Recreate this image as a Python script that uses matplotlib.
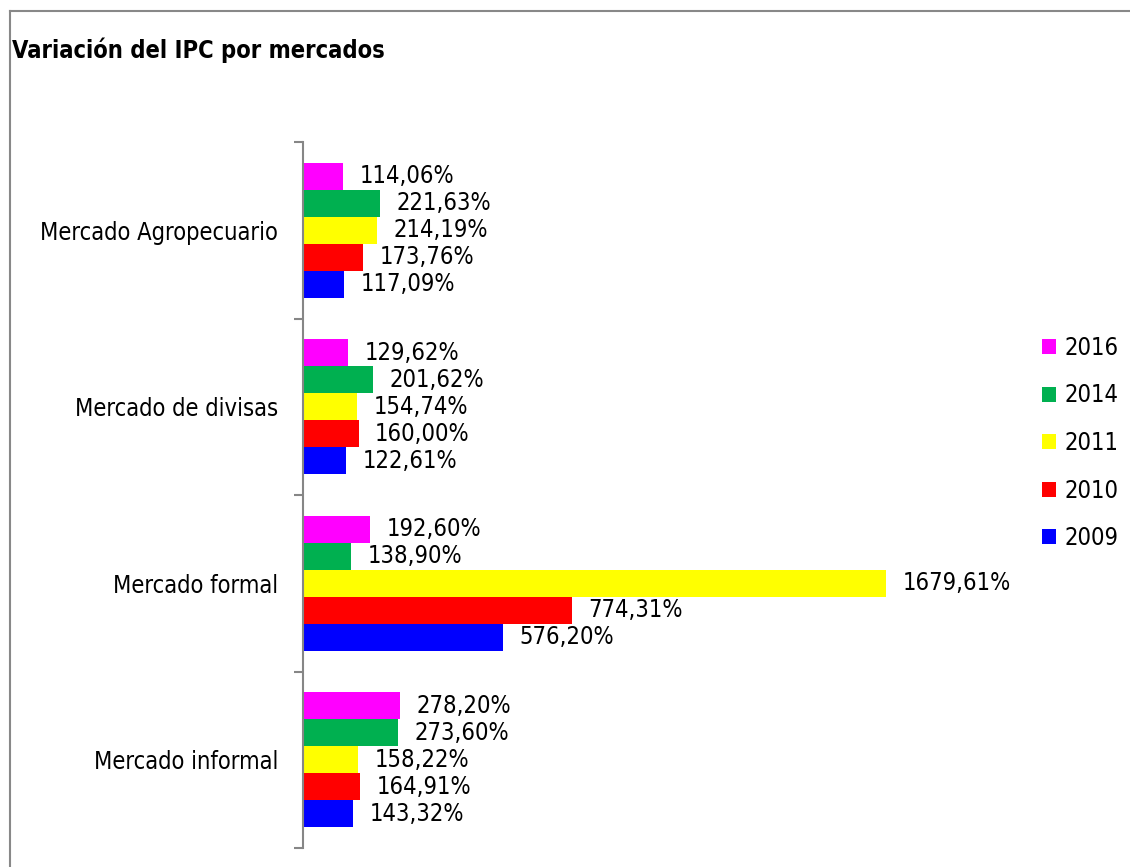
import matplotlib.pyplot as plt
import numpy as np
from matplotlib.lines import Line2D

categories = ['Mercado Agropecuario', 'Mercado de divisas', 'Mercado formal', 'Mercado informal']
years = ['2016', '2014', '2011', '2010', '2009']
v2016 = [114.06, 129.62, 192.60, 278.20]
v2014 = [221.63, 201.62, 138.90, 273.60]
v2011 = [214.19, 154.74, 1679.61, 158.22]
v2010 = [173.76, 160.00, 774.31, 164.91]
v2009 = [117.09, 122.61, 576.20, 143.32]
series = [v2016, v2014, v2011, v2010, v2009]
colors = ['#FF00FF', '#00B050', '#FFFF00', '#FF0000', '#0000FF']

plt.rcParams['font.family'] = ['DejaVu Sans']
plt.rcParams['font.stretch'] = 'condensed'
fs = 17

W, H = 1130, 867
fig = plt.figure(figsize=(W / 100, H / 100), dpi=100)
ax = fig.add_axes([303 / W, 1 - 848 / H, (1020 - 303) / W, (848 - 142) / H])

y = np.arange(len(categories))
h = 0.1534
for i, (vals, c, yr) in enumerate(zip(series, colors, years)):
    pos = y + (i - 2) * h
    ax.barh(pos, vals, height=h, color=c, label=yr)
    for p, v in zip(pos, vals):
        ax.annotate(f"{v:.2f}".replace('.', ',') + '%', (v, p), xytext=(12, 0),
                    textcoords='offset points', va='center', ha='left', fontsize=fs)

ax.set_xlim(0, (1020 - 303) / 0.347)
ax.set_ylim(3.5, -0.5)
ax.set_xticks([])
ax.set_yticks(np.arange(-0.5, 4, 1))
ax.set_yticklabels([])
ax.set_yticks(y, minor=True)
ax.set_yticklabels(categories, minor=True, fontsize=fs)
ax.tick_params(axis='y', which='major', length=6.5, width=1.5, color='#868686', direction='out')
ax.tick_params(axis='y', which='minor', length=0, pad=18)
for s in ['top', 'right', 'bottom']:
    ax.spines[s].set_visible(False)
ax.spines['left'].set_color('#868686')
ax.spines['left'].set_linewidth(1.5)

ax.legend(loc='center left', bbox_to_anchor=(1030 / W, 1 - 443 / H), bbox_transform=fig.transFigure,
          frameon=False, fontsize=fs, handlelength=0.6, handleheight=0.6,
          handletextpad=0.35, labelspacing=1.0, borderpad=0)

fig.text(12 / W, 1 - 58 / H, 'Variación del IPC por mercados', fontsize=17, fontweight='bold',
         va='baseline', ha='left')

fig.add_artist(Line2D([10 / W, 10 / W], [0, 1 - 11 / H], color='#888888', lw=1.5, transform=fig.transFigure))
fig.add_artist(Line2D([10 / W, 1], [1 - 11 / H, 1 - 11 / H], color='#888888', lw=1.5, transform=fig.transFigure))

fig.savefig('out.png', dpi=100)
